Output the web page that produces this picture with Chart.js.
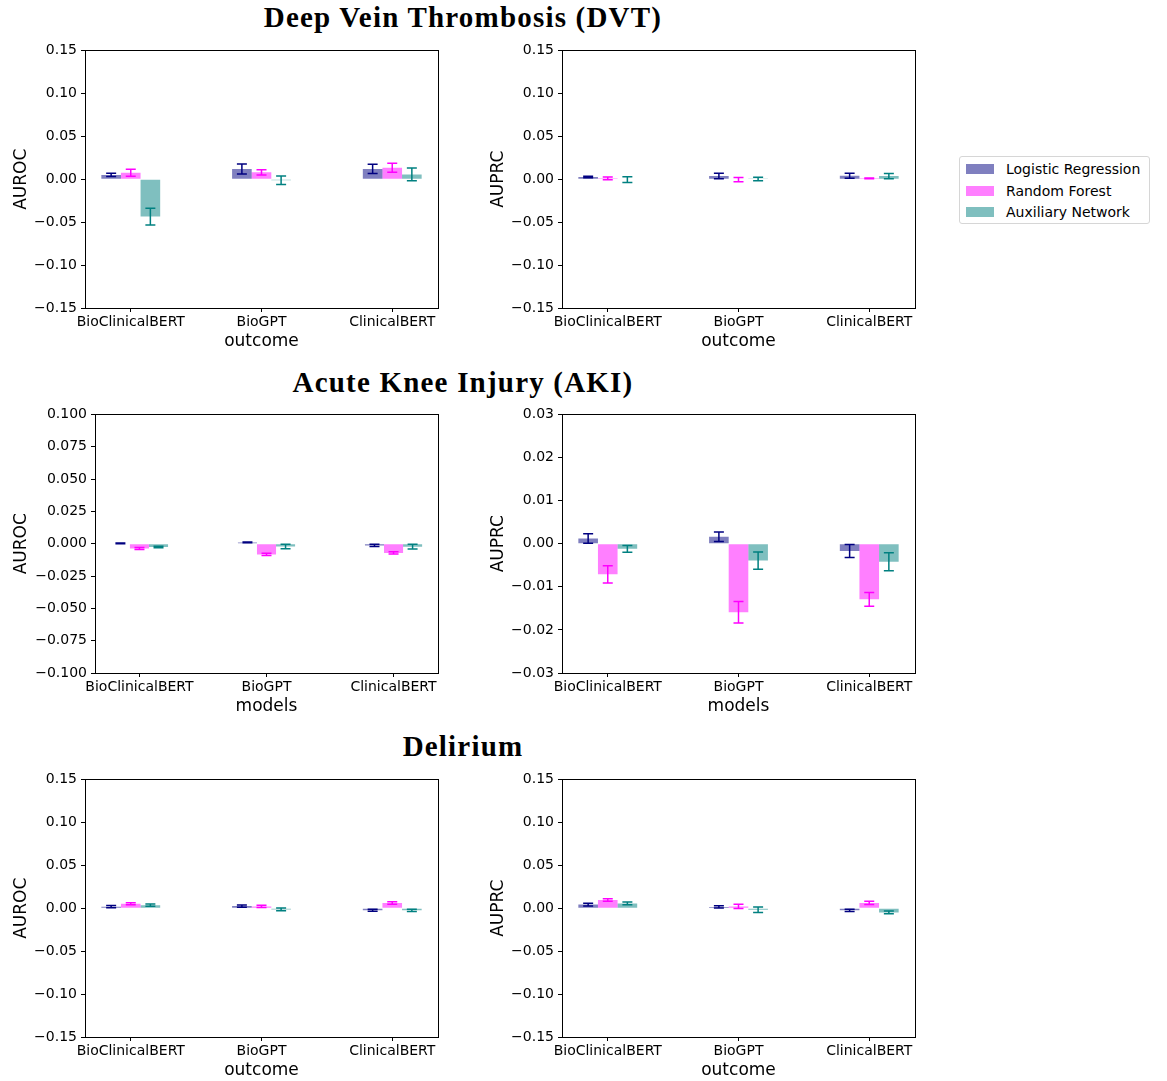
<!DOCTYPE html>
<html>
<head>
<meta charset="utf-8">
<title>Embedding models: AUROC / AUPRC differences</title>
<script src="https://cdn.jsdelivr.net/npm/chart.js@4.4.1/dist/chart.umd.min.js"></script>
<style>
    body { margin: 0; background: #ffffff; }
    #figure { position: relative; width: 1167px; height: 1081px; font-family: 'DejaVu Sans', sans-serif; }
    .panel { position: absolute; }
    .suptitle {
        position: absolute; left: 0; width: 926px; height: 34px; line-height: 34px;
        text-align: center; color: #000; font-family: 'Liberation Serif', serif;
        font-weight: bold; font-size: 29px; letter-spacing: 1.2px;
    }
    #legend {
        position: absolute; left: 959px; top: 156px; width: 189px; height: 66px;
        border: 1px solid #d6d6d6; border-radius: 3px; background: #fff;
    }
    .legend-row { position: absolute; left: 6px; height: 20px; line-height: 20px; font-size: 14px; color: #000; }
    .legend-patch { position: absolute; left: 0; top: 5px; width: 28px; height: 10px; }
    .legend-text { position: absolute; left: 40px; white-space: nowrap; }
</style>
</head>
<body>
<div id="figure">
    <div class="suptitle" style="top: 0px;">Deep Vein Thrombosis (DVT)</div>
    <div class="suptitle" style="top: 365px;">Acute Knee Injury (AKI)</div>
    <div class="suptitle" style="top: 729px;">Delirium</div>
    <div id="legend"></div>
</div>
<script>
const models = ['BioClinicalBERT', 'BioGPT', 'ClinicalBERT'];
const methods = ['Logistic Regression', 'Random Forest', 'Auxiliary Network'];

// rows: Logistic Regression, Random Forest, Auxiliary Network; columns follow models
const dvtAurocMean = [[0.005, 0.012, 0.012], [0.0075, 0.008, 0.0134], [-0.0435, -0.0012, 0.0055]];
const dvtAurocErr = [[0.002, 0.0058, 0.0055], [0.004, 0.003, 0.0052], [0.0097, 0.005, 0.0074]];
const dvtAuprcMean = [[0.0025, 0.0037, 0.004], [0.001, -0.0005, 0.001], [-0.0005, 0.0003, 0.0036]];
const dvtAuprcErr = [[0.0008, 0.0033, 0.003], [0.0017, 0.0025, 0.0005], [0.0033, 0.002, 0.003]];

const akiAurocMean = [[0.0003, 0.001, -0.0013], [-0.0037, -0.0083, -0.0071], [-0.0025, -0.0022, -0.0023]];
const akiAurocErr = [[0.0003, 0.0003, 0.0008], [0.0008, 0.0009, 0.0009], [0.0006, 0.0018, 0.0018]];
const akiAuprcMean = [[0.0012, 0.0016, -0.0017], [-0.0071, -0.0159, -0.0129], [-0.0012, -0.0039, -0.0042]];
const akiAuprcErr = [[0.0011, 0.0011, 0.0015], [0.002, 0.0025, 0.0016], [0.0008, 0.002, 0.0021]];

const delAurocMean = [[0.0017, 0.0025, -0.0024], [0.0052, 0.002, 0.006], [0.0035, -0.0014, -0.0025]];
const delAurocErr = [[0.0013, 0.0013, 0.0012], [0.0012, 0.0013, 0.0014], [0.0013, 0.0017, 0.0012]];
const delAuprcMean = [[0.0043, 0.0015, -0.0025], [0.0095, 0.0021, 0.0062], [0.0056, -0.0017, -0.0049]];
const delAuprcErr = [[0.0016, 0.0014, 0.0012], [0.0014, 0.0025, 0.002], [0.0017, 0.0032, 0.0017]];

const yTicksWide = [-0.15, -0.10, -0.05, 0, 0.05, 0.10, 0.15];
const yTicksAkiAuroc = [-0.1, -0.075, -0.05, -0.025, 0, 0.025, 0.05, 0.075, 0.1];
const yTicksAkiAuprc = [-0.03, -0.02, -0.01, 0, 0.01, 0.02, 0.03];

const barColors = ['rgba(0, 0, 128, 0.5)', 'rgba(255, 0, 255, 0.5)', 'rgba(0, 128, 128, 0.5)'];
const errorColors = ['#000080', '#ff00ff', '#008080'];

Chart.defaults.font.family = "'DejaVu Sans', sans-serif";
Chart.defaults.color = '#000';

// plot area given as [left, top, right, bottom] in figure pixels
const panels = [
    { mean: dvtAurocMean, err: dvtAurocErr, yTicks: yTicksWide, decimals: 2, yLabel: 'AUROC', xLabel: 'outcome', area: [85, 50, 438, 308] },
    { mean: dvtAuprcMean, err: dvtAuprcErr, yTicks: yTicksWide, decimals: 2, yLabel: 'AUPRC', xLabel: 'outcome', area: [562, 50, 915, 308] },
    { mean: akiAurocMean, err: akiAurocErr, yTicks: yTicksAkiAuroc, decimals: 3, yLabel: 'AUROC', xLabel: 'models', area: [95, 414, 438, 673] },
    { mean: akiAuprcMean, err: akiAuprcErr, yTicks: yTicksAkiAuprc, decimals: 2, yLabel: 'AUPRC', xLabel: 'models', area: [562, 414, 915, 673] },
    { mean: delAurocMean, err: delAurocErr, yTicks: yTicksWide, decimals: 2, yLabel: 'AUROC', xLabel: 'outcome', area: [85, 779, 438, 1037] },
    { mean: delAuprcMean, err: delAuprcErr, yTicks: yTicksWide, decimals: 2, yLabel: 'AUPRC', xLabel: 'outcome', area: [562, 779, 915, 1037] },
];

function formatTick(value, decimals) {
    if (Math.abs(value) < 1e-9) return (0).toFixed(decimals);
    const text = Math.abs(value).toFixed(decimals);
    return value < 0 ? '\u2212' + text : text;
}

const errorBarPlugin = {
    id: 'errorBars',
    afterDatasetsDraw(chart) {
        const ctx = chart.ctx;
        const yScale = chart.scales.y;
        chart.data.datasets.forEach((ds, d) => {
            const meta = chart.getDatasetMeta(d);
            meta.data.forEach((bar, i) => {
                const v = ds.data[i].y;
                const e = ds.errors[i];
                const top = yScale.getPixelForValue(v + e);
                const bottom = yScale.getPixelForValue(v - e);
                ctx.save();
                ctx.strokeStyle = ds.errorColor;
                ctx.lineWidth = 1.5;
                ctx.beginPath();
                ctx.moveTo(bar.x, top);
                ctx.lineTo(bar.x, bottom);
                ctx.moveTo(bar.x - 5, top);
                ctx.lineTo(bar.x + 5, top);
                ctx.moveTo(bar.x - 5, bottom);
                ctx.lineTo(bar.x + 5, bottom);
                ctx.stroke();
                ctx.restore();
            });
        });
    },
    afterDraw(chart) {
        const { left, top, right, bottom } = chart.chartArea;
        const ctx = chart.ctx;
        ctx.save();
        ctx.strokeStyle = '#000';
        ctx.lineWidth = 1;
        ctx.strokeRect(Math.round(left) + 0.5, Math.round(top) + 0.5,
            Math.round(right - left), Math.round(bottom - top));
        ctx.restore();
    }
};

function createPanel(p) {
    const [left, top, right, bottom] = p.area;
    const colLeft = left < 500 ? 0 : 470;
    const padTop = 12;
    const padRight = 15;
    const xAxisHeight = 46;

    const wrap = document.createElement('div');
    wrap.className = 'panel';
    const width = right + padRight - colLeft;
    const height = bottom - top + padTop + xAxisHeight;
    wrap.style.left = colLeft + 'px';
    wrap.style.top = (top - padTop) + 'px';
    const canvas = document.createElement('canvas');
    canvas.width = width;
    canvas.height = height;
    wrap.appendChild(canvas);
    document.getElementById('figure').appendChild(wrap);

    const axisGrid = { display: true, drawOnChartArea: false, drawTicks: true, tickLength: 4, color: '#000', tickWidth: 1, offset: false };

    return new Chart(canvas, {
        type: 'bar',
        data: {
            datasets: methods.map((name, k) => ({
                label: name,
                data: models.map((m, i) => ({ x: i, y: p.mean[k][i] })),
                errors: p.err[k],
                errorColor: errorColors[k],
                backgroundColor: barColors[k],
                borderWidth: 0,
                categoryPercentage: 0.45,
                barPercentage: 1
            }))
        },
        options: {
            responsive: false,
            animation: false,
            layout: { padding: { top: padTop, right: padRight, left: 0, bottom: 0 } },
            plugins: {
                legend: { display: false },
                tooltip: { enabled: false }
            },
            scales: {
                x: {
                    type: 'linear',
                    offset: false,
                    min: -0.35,
                    max: 2.35,
                    afterBuildTicks: (scale) => { scale.ticks = models.map((m, i) => ({ value: i })); },
                    afterFit: (scale) => { scale.height = xAxisHeight; },
                    ticks: {
                        autoSkip: false,
                        maxRotation: 0,
                        minRotation: 0,
                        padding: 2,
                        font: { size: 14 },
                        callback: (value) => models[value]
                    },
                    grid: axisGrid,
                    border: { display: false },
                    title: { display: true, text: p.xLabel, font: { size: 17 }, padding: { top: 0, bottom: 2 } }
                },
                y: {
                    min: p.yTicks[0],
                    max: p.yTicks[p.yTicks.length - 1],
                    afterBuildTicks: (scale) => { scale.ticks = p.yTicks.map(v => ({ value: v })); },
                    afterFit: (scale) => { scale.width = left - colLeft; },
                    ticks: {
                        padding: 4,
                        font: { size: 14 },
                        callback: (value) => formatTick(value, p.decimals)
                    },
                    grid: axisGrid,
                    border: { display: false },
                    title: {
                        display: true, text: p.yLabel, font: { size: 17 },
                        padding: { top: colLeft === 0 ? 11 : 18, bottom: 0 }
                    }
                }
            }
        },
        plugins: [errorBarPlugin]
    });
}

function buildLegend() {
    const legend = document.getElementById('legend');
    methods.forEach((name, k) => {
        const row = document.createElement('div');
        row.className = 'legend-row';
        row.style.top = (2 + k * 21.5) + 'px';
        row.innerHTML = '<span class="legend-patch" style="background:' + barColors[k] + '"></span>' +
            '<span class="legend-text">' + name + '</span>';
        legend.appendChild(row);
    });
}

panels.forEach(createPanel);
buildLegend();
</script>
</body>
</html>
